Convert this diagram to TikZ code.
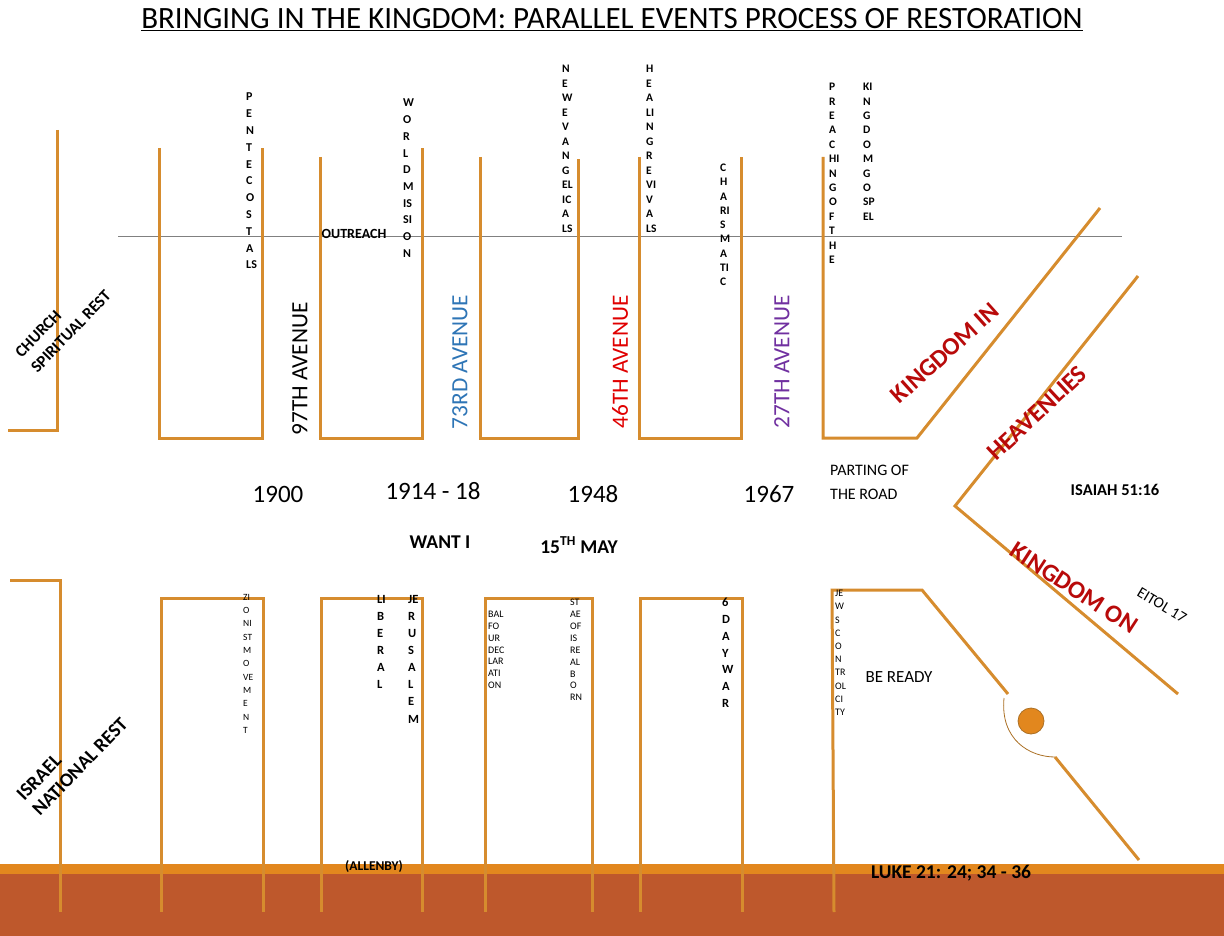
\documentclass[tikz,border=0pt]{standalone}
\usepackage{fontspec}
\setmainfont{Carlito}
\definecolor{roadorange}{RGB}{214,140,46}
\definecolor{bandorange}{RGB}{226,135,30}
\definecolor{bandbrown}{RGB}{190,88,44}
\definecolor{kingred}{RGB}{184,10,10}
\definecolor{avblue}{RGB}{46,117,182}
\definecolor{avred}{RGB}{224,0,0}
\definecolor{avpurple}{RGB}{112,48,160}
\begin{document}
\begin{tikzpicture}[x=10pt,y=10pt]
			\tikzstyle{every node}+=[inner sep=0pt]
			\tikzstyle{roadline}=[draw=roadorange, line width=3pt]
			\tikzstyle{stack}=[anchor=north west, align=left]
			\tikzstyle{avenue}=[rotate=90, font=\fontsize{23.3}{27}\selectfont]
			\tikzstyle{year}=[font=\fontsize{25}{29}\selectfont]
			\tikzstyle{kingdom}=[text=kingred, font=\bfseries\fontsize{25}{29}\selectfont]
			\useasboundingbox (0,0) rectangle (122.4,-93.6);
			\fill [bandorange] (0,-86.4) rectangle (122.4,-87.4);
			\fill [bandbrown] (0,-87.4) rectangle (122.4,-93.6);
			\draw [gray, line width=1pt] (11.8,-23.7) -- (112.2,-23.7);
			\draw [roadline] (5.7,-13.0) -- (5.7,-43.0) -- (0.8,-43.0);
			\draw [roadline] (15.9,-14.8) -- (15.9,-43.8) -- (26.2,-43.8) -- (26.2,-14.8);
			\draw [roadline] (32.0,-15.7) -- (32.0,-43.8) -- (42.2,-43.8) -- (42.2,-14.8);
			\draw [roadline] (48.0,-15.7) -- (48.0,-43.8) -- (57.8,-43.8) -- (57.8,-15.9);
			\draw [roadline] (63.9,-15.7) -- (63.9,-43.8) -- (74.1,-43.8) -- (74.1,-15.7);
			\draw [roadline] (82.3,-15.7) -- (82.3,-43.8) -- (91.7,-43.8) -- (110.0,-20.8);
			\draw [roadline] (113.8,-27.6) -- (95.5,-50.6) -- (117.8,-69.4);
			\draw [roadline] (1.0,-58.0) -- (6.0,-58.0) -- (6.0,-91.2);
			\draw [roadline] (16.1,-91.2) -- (16.1,-59.8) -- (26.3,-59.8) -- (26.3,-91.2);
			\draw [roadline] (32.1,-91.2) -- (32.1,-59.8) -- (42.2,-59.8) -- (42.2,-91.2);
			\draw [roadline] (48.5,-91.2) -- (48.5,-59.8) -- (59.2,-59.8) -- (59.2,-91.2);
			\draw [roadline] (64.0,-91.2) -- (64.0,-59.8) -- (74.2,-59.8) -- (74.2,-91.2);
			\draw [roadline] (83.4,-91.2) -- (83.2,-59.0) -- (92.2,-59.0) -- (100.8,-69.4);
			\draw [roadorange!80!black, line width=0.8pt] (100.4,-69.8) .. controls (100.0,-74.0) and (103.0,-75.7) .. (105.5,-75.7);
			\draw [roadline] (105.5,-75.7) -- (113.9,-86.0);
			\draw [roadorange!80!black, fill=bandorange, line width=0.8pt] (103.1,-72.1) circle (1.3);
			\node [font=\fontsize{31}{36}\selectfont] (title) at (61.2,-2.0) {\underline{BRINGING IN THE KINGDOM: PARALLEL EVENTS PROCESS OF RESTORATION}};
			\node [stack, font=\bfseries\fontsize{12}{16.8}\selectfont] (pente) at (24.6,-9.3) {P\\E\\N\\T\\E\\C\\O\\S\\T\\A\\LS};
			\node [stack, font=\bfseries\fontsize{12}{16.7}\selectfont] (worldm) at (40.3,-9.9) {W\\O\\R\\L\\D\\M\\IS\\SI\\O\\N};
			\node [stack, font=\bfseries\fontsize{11.5}{14.5}\selectfont] (newev) at (56.2,-6.5) {N\\E\\W\\E\\V\\A\\N\\G\\EL\\IC\\A\\LS};
			\node [stack, font=\bfseries\fontsize{11.5}{14.5}\selectfont] (healing) at (64.6,-6.5) {H\\E\\A\\LI\\N\\G\\R\\E\\VI\\V\\A\\LS};
			\node [stack, font=\bfseries\fontsize{11.5}{14.25}\selectfont] (charis) at (72.0,-16.4) {C\\H\\A\\RI\\S\\M\\A\\TI\\C};
			\node [stack, font=\bfseries\fontsize{11.5}{14.4}\selectfont] (preach) at (82.9,-8.3) {P\\R\\E\\A\\C\\HI\\N\\G\\O\\F\\T\\H\\E};
			\node [stack, font=\bfseries\fontsize{11.5}{14.4}\selectfont] (kgospel) at (86.3,-8.3) {KI\\N\\G\\D\\O\\M\\G\\O\\SP\\EL};
			\node [font=\bfseries\fontsize{14}{16}\selectfont] (outreach) at (35.4,-23.4) {OUTREACH};
			\node [avenue] (av97) at (30.0,-36.9) {97TH AVENUE};
			\node [avenue, text=avblue] (av73) at (46.0,-36.2) {73RD AVENUE};
			\node [avenue, text=avred] (av46) at (62.0,-36.2) {46TH AVENUE};
			\node [avenue, text=avpurple] (av27) at (78.2,-36.2) {27TH AVENUE};
			\node [rotate=46, align=left, font=\bfseries\fontsize{16.5}{22}\selectfont] (church) at (6.3,-32.4) {CHURCH\\SPIRITUAL REST};
			\node [rotate=46, align=left, font=\bfseries\fontsize{19.5}{22}\selectfont] (israel) at (7.2,-75.9) {ISRAEL\\NATIONAL REST};
			\node [kingdom, rotate=42] (kingin) at (94.5,-35.3) {KINGDOM IN};
			\node [kingdom, rotate=43] (heaven) at (103.7,-41.3) {HEAVENLIES};
			\node [kingdom, rotate=-33] (kingon) at (107.4,-58.8) {KINGDOM ON};
			\node [rotate=-31, font=\fontsize{15.5}{18}\selectfont] (eitol) at (116.2,-60.5) {EITOL 17};
			\node [year] (y1900) at (27.8,-49.4) {1900};
			\node [year] (y1914) at (43.3,-49.1) {1914 - 18};
			\node [year] (y1948) at (59.3,-49.4) {1948};
			\node [year] (y1967) at (76.9,-49.4) {1967};
			\node [anchor=west, align=left, font=\fontsize{16}{24}\selectfont] (parting) at (83.0,-48.2) {PARTING OF\\THE ROAD};
			\node [font=\bfseries\fontsize{16.5}{19}\selectfont] (isaiah) at (111.5,-49.0) {ISAIAH 51:16};
			\node [font=\bfseries\fontsize{19.5}{23}\selectfont] (wantone) at (44.0,-54.2) {WANT I};
			\node [font=\bfseries\fontsize{19.5}{23}\selectfont] (may15) at (57.9,-54.5) {15\textsuperscript{TH} MAY};
			\node [stack, font=\fontsize{9.5}{13.3}\selectfont] (zion) at (24.3,-59.4) {ZI\\O\\NI\\ST\\M\\O\\VE\\M\\E\\N\\T};
			\node [stack, font=\bfseries\fontsize{12.5}{17}\selectfont] (liberal) at (37.7,-59.5) {LI\\B\\E\\R\\A\\L};
			\node [stack, font=\bfseries\fontsize{12.5}{17.1}\selectfont] (jerus) at (40.8,-59.5) {JE\\R\\U\\S\\A\\L\\E\\M};
			\node [stack, font=\fontsize{10}{11.8}\selectfont] (balfour) at (48.8,-61.1) {BAL\\FO\\UR\\DEC\\LAR\\ATI\\ON};
			\node [stack, font=\fontsize{10}{11.9}\selectfont] (israelborn) at (57.0,-59.9) {ST\\AE\\OF\\IS\\RE\\AL\\B\\O\\RN};
			\node [stack, font=\bfseries\fontsize{12.5}{16.8}\selectfont] (sixday) at (72.2,-59.8) {6\\D\\A\\Y\\W\\A\\R};
			\node [stack, font=\fontsize{10}{13.2}\selectfont] (jewscity) at (83.5,-59.0) {JE\\W\\S\\C\\O\\N\\TR\\OL\\CI\\TY};
			\node [font=\fontsize{17}{20}\selectfont] (beready) at (89.9,-67.7) {BE READY};
			\node [font=\bfseries\fontsize{13.5}{16}\selectfont] (allenby) at (37.4,-86.7) {(ALLENBY)};
			\node [font=\bfseries\fontsize{19.5}{23}\selectfont] (luke) at (95.1,-87.3) {LUKE 21: 24; 34 - 36};
		\end{tikzpicture}
\end{document}
